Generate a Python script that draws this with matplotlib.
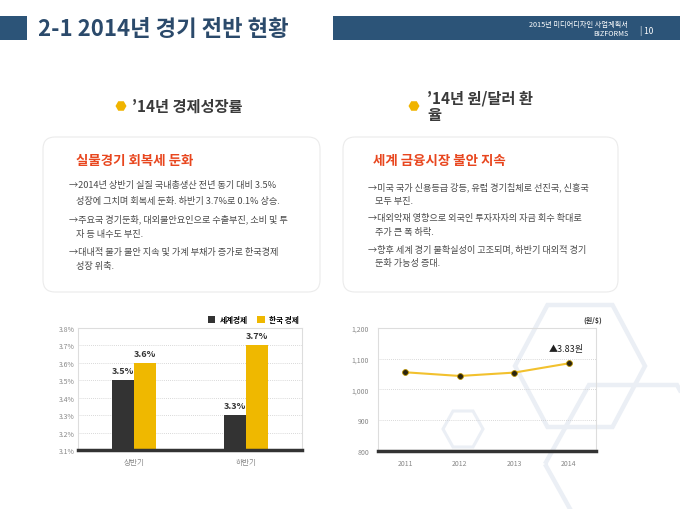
import matplotlib
matplotlib.use('Agg')
import matplotlib.pyplot as plt
from matplotlib.patches import Rectangle, FancyBboxPatch, Polygon, RegularPolygon
import numpy as np

plt.rcParams['font.family'] = ['Noto Sans CJK KR', 'DejaVu Sans']

# ---- data ----
title = '2-1 2014년 경기 전반 현황'
doc_name = '2015년 미디어디자인 사업계획서'
brand = 'BIZFORMS'
page_no = '| 10'

halves = ['상반기', '하반기']
series_names = ['세계경제', '한국 경제']
world_growth = [3.5, 3.3]
korea_growth = [3.6, 3.7]
growth_ticks = [3.1, 3.2, 3.3, 3.4, 3.5, 3.6, 3.7, 3.8]

years = ['2011', '2012', '2013', '2014']
krw_usd = [1056, 1044, 1055, 1085]
rate_ticks = [800, 900, 1000, 1100, 1200]
rate_note = '▲3.83원'
rate_unit = '(원/$)'

left_head = '’14년 경제성장률'
right_head = ['’14년 원/달러 환', '율']
left_box_title = '실물경기 회복세 둔화'
left_box_lines = ['→2014년 상반기 실질 국내총생산 전년 동기 대비 3.5%',
                  '성장에 그치며 회복세 둔화. 하반기 3.7%로 0.1% 상승.',
                  '→주요국 경기둔화, 대외불안요인으로 수출부진, 소비 및 투',
                  '자 등 내수도 부진.',
                  '→대내적 물가 불안 지속 및 가계 부채가 증가로 한국경제',
                  '성장 위축.']
right_box_title = '세계 금융시장 불안 지속'
right_box_lines = ['→미국 국가 신용등급 강등, 유럽 경기침체로 선진국, 신흥국',
                   '모두 부진.',
                   '→대외악재 영향으로 외국인 투자자자의 자금 회수 확대로',
                   '주가 큰 폭 하락.',
                   '→향후 세계 경기 불확실성이 고조되며, 하반기 대외적 경기',
                   '둔화 가능성 증대.']

W, H = 680, 510
NAVY = '#2c5478'
DARK = '#333333'
YELLOW = '#efb800'
ORANGE = '#e8461e'


def px_axes(x0, y0, x1, y1):
    # axes placed with slide pixel coordinates
    return fig.add_axes([x0 / W, 1 - y1 / H, (x1 - x0) / W, (y1 - y0) / H])


fig = plt.figure(figsize=(6.8, 5.1), dpi=100)
fig.patch.set_facecolor('white')

# background layer in pixel units
bg = fig.add_axes([0, 0, 1, 1])
bg.set_xlim(0, W)
bg.set_ylim(H, 0)
bg.axis('off')

# header
bg.add_patch(Rectangle((0, 17), 27, 24, color=NAVY, lw=0))
bg.add_patch(Rectangle((333, 17), 347, 24, color=NAVY, lw=0))
bg.text(38, 29.5, title, fontsize=16, fontweight='bold', color='#2b4a6b', va='center')
bg.text(628, 24.5, doc_name, fontsize=5.2, color='white', ha='right', va='center')
bg.text(628, 34.5, brand, fontsize=5.2, color='white', ha='right', va='center')
bg.text(640, 30.5, page_no, fontsize=6, color='white', ha='left', va='center')

# decorative hexagons
hex_col = '#ebeff5'
for cx, cy, r, h, lw in [(580, 367, 65, 61, 3.2), (633, 465, 88, 79, 3.2), (463, 430, 20, 18, 2.2)]:
    pts = [(cx - r, cy), (cx - r / 2, cy - h), (cx + r / 2, cy - h),
           (cx + r, cy), (cx + r / 2, cy + h), (cx - r / 2, cy + h)]
    bg.add_patch(Polygon(pts, closed=True, fill=False, edgecolor=hex_col, lw=lw, zorder=0))

# section headings
for x in [121, 414]:
    bg.add_patch(RegularPolygon((x, 107), 6, radius=5.5, orientation=np.pi / 6, color='#f0b400', lw=0))
bg.text(132, 107, left_head, fontsize=11, fontweight='bold', color='#3a3a3a', va='center')
bg.text(427, 99, right_head[0], fontsize=11, fontweight='bold', color='#3a3a3a', va='center')
bg.text(427, 115, right_head[1], fontsize=11, fontweight='bold', color='#3a3a3a', va='center')

# text boxes
for x0, x1 in [(43, 320), (343, 618)]:
    bg.add_patch(FancyBboxPatch((x0, 138), x1 - x0, 155, boxstyle='round,pad=0,rounding_size=12',
                                facecolor='white', edgecolor='#ebebeb', lw=0.8))

bg.text(76, 161, left_box_title, fontsize=9.7, fontweight='bold', color=ORANGE, va='center')
left_y = [186, 202, 219, 235, 252, 267]
for line, y in zip(left_box_lines, left_y):
    x = 69 if line.startswith('→') else 76
    bg.text(x, y, line, fontsize=6.6, color='#4a4a4a', va='center')

bg.text(373, 161, right_box_title, fontsize=9.7, fontweight='bold', color=ORANGE, va='center')
right_y = [187, 202, 218, 233, 249, 264]
for line, y in zip(right_box_lines, right_y):
    x = 368 if line.startswith('→') else 375
    bg.text(x, y, line, fontsize=6.6, color='#4a4a4a', va='center')

# ---- bar chart ----
ax = px_axes(78, 329, 302, 451)
ax.set_facecolor('none')
pos = np.arange(len(halves))
bw = 0.196
b1 = ax.bar(pos - bw / 2, world_growth, bw, color=DARK, label=series_names[0], zorder=3)
b2 = ax.bar(pos + bw / 2, korea_growth, bw, color=YELLOW, label=series_names[1], zorder=3)
for bars in [b1, b2]:
    for rect in bars:
        v = rect.get_height()
        ax.annotate('%.1f%%' % v, (rect.get_x() + rect.get_width() / 2, v),
                    xytext=(0, 7), textcoords='offset points', ha='center', va='center',
                    fontsize=6.5, fontweight='bold', color=DARK)
ax.set_xlim(-0.5, 1.5)
ax.set_ylim(growth_ticks[0], growth_ticks[-1])
ax.set_yticks(growth_ticks)
ax.set_yticklabels(['%.1f%%' % t for t in growth_ticks])
ax.set_xticks(pos)
ax.set_xticklabels(halves)
ax.tick_params(length=0, labelsize=5, labelcolor='#888888')
ax.tick_params(axis='y', pad=2.5)
ax.tick_params(axis='x', pad=6, labelsize=5.5)
ax.grid(axis='y', linestyle=(0, (1, 1.5)), color='#cccccc', lw=0.6, zorder=0)
for s in ['top', 'left', 'right']:
    ax.spines[s].set_color('#dddddd')
    ax.spines[s].set_linewidth(0.8)
ax.spines['bottom'].set_color(DARK)
ax.spines['bottom'].set_linewidth(2.5)
ax.spines['bottom'].set_zorder(4)
ax.legend(ncol=2, loc='lower right', bbox_to_anchor=(1.0, 1.01), frameon=False,
          handlelength=1.0, handleheight=1.0, handletextpad=0.6, columnspacing=1.2,
          borderaxespad=0, prop={'size': 5.5, 'weight': 'bold'})

# ---- line chart ----
lx = px_axes(378, 329, 596, 452)
lx.set_facecolor('none')
xs = np.arange(len(years))
lx.plot(xs, krw_usd, color='#f2c12e', lw=1.5, marker='o', markersize=4.2,
        markerfacecolor='#2b2410', markeredgecolor='#b89000', markeredgewidth=0.6, zorder=3)
lx.annotate(rate_note, (xs[-1], krw_usd[-1]), xytext=(-1.5, 10.5), textcoords='offset points',
            ha='center', va='center', fontsize=6.5, color='#222222')
lx.text(0.986, 1.073, rate_unit, transform=lx.transAxes, ha='center', va='center',
        fontsize=5, fontweight='bold', color=DARK)
lx.set_xlim(-0.5, 3.5)
lx.set_ylim(rate_ticks[0], rate_ticks[-1])
lx.set_yticks(rate_ticks)
lx.set_yticklabels(['{:,}'.format(t) for t in rate_ticks])
lx.set_xticks(xs)
lx.set_xticklabels(years)
lx.tick_params(length=0, labelsize=5, labelcolor='#888888')
lx.tick_params(axis='y', pad=6.5)
lx.tick_params(axis='x', pad=6)
lx.grid(axis='y', linestyle=(0, (1, 1.5)), color='#cccccc', lw=0.6, zorder=0)
for s in ['top', 'left', 'right']:
    lx.spines[s].set_color('#dddddd')
    lx.spines[s].set_linewidth(0.8)
lx.spines['bottom'].set_color(DARK)
lx.spines['bottom'].set_linewidth(2.5)

fig.savefig('out.png', dpi=100)
